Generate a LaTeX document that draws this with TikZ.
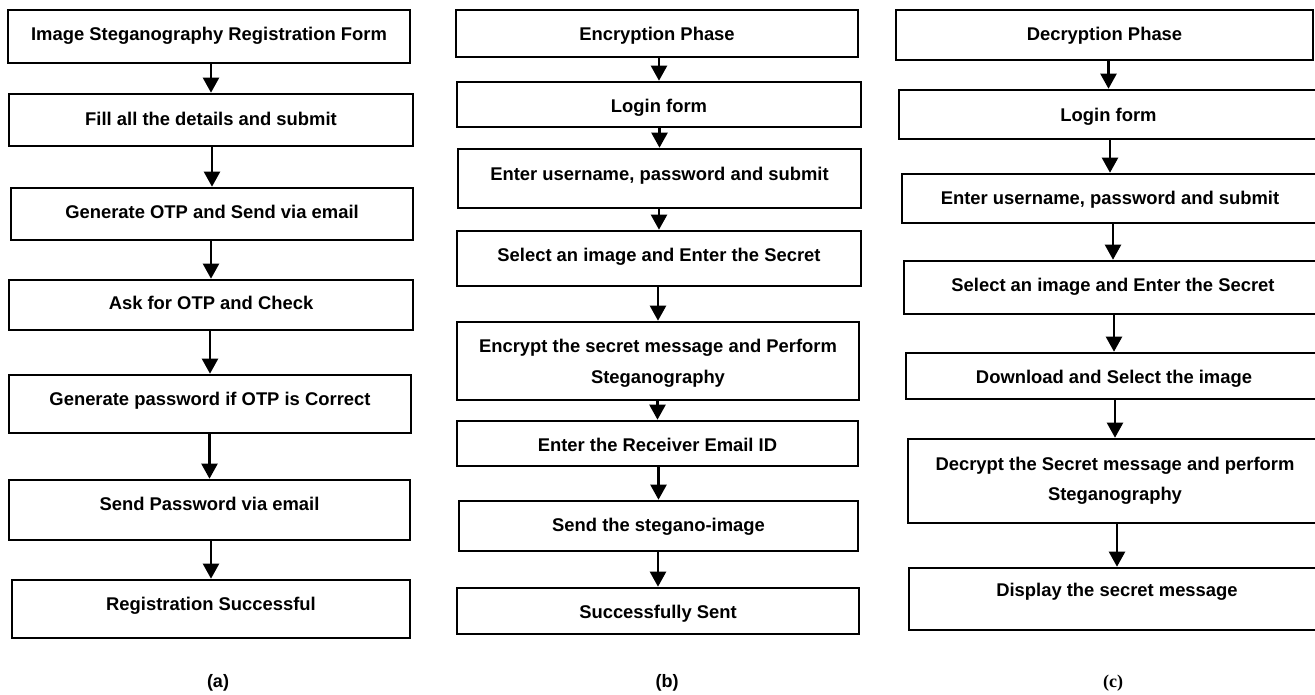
\documentclass[tikz,border=0pt]{standalone}
\usepackage{fontspec}
\setmainfont{Liberation Sans}
\newfontfamily\serifbold{Liberation Serif}
\usetikzlibrary{arrows.meta}
\tikzset{
  box/.style={draw=black, line width=2.6pt, fill=none, inner sep=0pt, rectangle},
  txt/.style={anchor=base, inner sep=0pt, font=\fontsize{18.4}{22}\selectfont\bfseries},
  captxt/.style={anchor=center, inner sep=0pt, font=\fontsize{18}{21}\selectfont\bfseries},
  arr/.style={line width=2.2pt, -{Triangle[width=16pt,length=15pt]}}
}
\newcommand{\mybox}[7]{%
  \node[box, minimum width={#4-#2}, minimum height={#5-#3}] (#1) at ({(#2+#4)/2},{(#3+#5)/2}) {};
  \node[txt] (#1t) at ({(#2+#4)/2},#6) {#7};
}
\begin{document}
\begin{tikzpicture}[x=1pt,y=-1pt]
\useasboundingbox (0,0) rectangle (1315,694);
\clip (0,0) rectangle (1315,694);
% column (a)
\mybox{a1}{8}{10}{410}{63}{40.7}{Image Steganography Registration Form}
\mybox{a2}{9}{94}{413}{146}{125}{Fill all the details and submit}
\mybox{a3}{11}{188}{413}{240}{218}{Generate OTP and Send via email}
\mybox{a4}{9}{280}{413}{330}{309}{Ask for OTP and Check}
\mybox{a5}{9}{375}{411}{433}{405.7}{Generate password if OTP is Correct}
\mybox{a6}{9}{480}{410}{540}{510.7}{Send Password via email}
\mybox{a7}{12}{580}{410}{638}{610.7}{Registration Successful}
\foreach \u/\v in {a1/a2,a2/a3,a3/a4,a4/a5,a5/a6,a6/a7}
  \draw[arr] (\u.south -| \v.north) -- (\v.north);
\node[captxt] (capa) at (218,683) {(a)};
% column (b)
\mybox{b1}{456}{10}{858}{57}{40.7}{Encryption Phase}
\mybox{b2}{457}{82}{861}{127}{112.7}{Login form}
\mybox{b3}{458}{149}{861}{208}{180}{Enter username, password and submit}
\node[box, minimum width=402pt, minimum height=78pt] (b5) at (658,361) {};
\node[txt] (b5t1) at (658,352.7) {Encrypt the secret message and Perform};
\node[txt] (b5t2) at (658,383.3) {Steganography};
\mybox{b4}{457}{231}{861}{286}{261.7}{Select an image and Enter the Secret}
\mybox{b6}{457}{421}{858}{466}{451.7}{Enter the Receiver Email ID}
\mybox{b7}{459}{501}{858}{551}{531.7}{Send the stegano-image}
\mybox{b8}{457}{588}{859}{634}{618.3}{Successfully Sent}
\foreach \u/\v in {b1/b2,b2/b3,b3/b4,b4/b5,b5/b6,b6/b7,b7/b8}
  \draw[arr] (\u.south -| \v.north) -- (\v.north);
\node[captxt] (capb) at (667,683) {(b)};
% column (c)
\mybox{c1}{896}{10}{1313}{60}{40.7}{Decryption Phase}
\mybox{c2}{899}{90}{1318}{139}{121.7}{Login form}
\mybox{c3}{902}{174}{1318}{223}{204}{Enter username, password and submit}
\mybox{c4}{904}{261}{1322}{314}{291.7}{Select an image and Enter the Secret}
\mybox{c5}{906}{353}{1322}{399}{383.3}{Download and Select the image}
\node[box, minimum width=414pt, minimum height=84pt] (c6) at (1115,481) {};
\node[txt] (c6t1) at (1115,470) {Decrypt the Secret message and perform};
\node[txt] (c6t2) at (1115,500.7) {Steganography};
\mybox{c7}{909}{568}{1325}{630}{596.7}{Display the secret message}
\foreach \u/\v in {c1/c2,c2/c3,c3/c4,c4/c5,c5/c6,c6/c7}
  \draw[arr] (\u.south -| \v.north) -- (\v.north);
\node[captxt, font=\fontsize{18}{21}\selectfont\serifbold\bfseries] (capc) at (1113,683) {(c)};
\end{tikzpicture}
\end{document}
